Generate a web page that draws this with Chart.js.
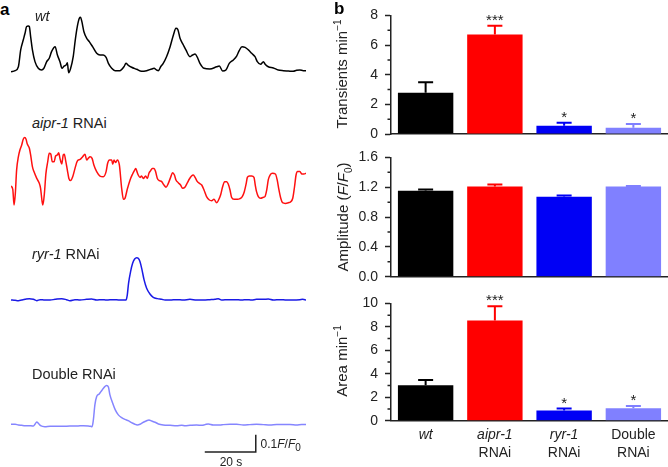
<!DOCTYPE html>
<html lang="en">
<head>
<meta charset="UTF-8">
<title>Calcium transients</title>
<script src="https://cdn.jsdelivr.net/npm/chart.js"></script>
<style>
  body { margin:0; width:668px; height:467px; position:relative; overflow:hidden; background:#fff;
         font-family: Arial, "Liberation Sans", Helvetica, sans-serif; color:#222; }
  canvas, .txt { position:absolute; }
  .txt { white-space:nowrap; }
  .lbl { font-size:14.5px; line-height:14.5px; left:32px; }
  .panel { font-size:17px; line-height:17px; font-weight:bold; color:#000; }
  .ytitle { font-size:15px; line-height:15px; transform:translate(-50%,-50%) rotate(-90deg); }
  sup, sub { font-size:10px; line-height:0; }
  .sb { font-size:12px; line-height:12px; }
</style>
</head>
<body>
  <canvas id="trWt" width="295" height="85" style="left:11px;top:3px"></canvas>
  <canvas id="trAipr" width="295" height="85" style="left:11px;top:132px"></canvas>
  <canvas id="trRyr" width="295" height="85" style="left:11px;top:232px"></canvas>
  <canvas id="trDouble" width="295" height="111" style="left:11px;top:357px"></canvas>

  <canvas id="barTransients" width="338" height="151" style="left:330px;top:0"></canvas>
  <canvas id="barAmplitude" width="338" height="152" style="left:330px;top:142px"></canvas>
  <canvas id="barArea" width="338" height="179" style="left:330px;top:288px"></canvas>

  <div class="txt panel" style="left:0;top:0.6px">a</div>
  <div class="txt panel" style="left:334px;top:-0.4px">b</div>

  <div class="txt lbl" style="left:35px;top:9.4px"><i>wt</i></div>
  <div class="txt lbl" style="top:116px"><i>aipr-1</i> RNAi</div>
  <div class="txt lbl" style="top:247px"><i>ryr-1</i> RNAi</div>
  <div class="txt lbl" style="top:367px">Double RNAi</div>

  <div class="txt sb" style="left:260.5px;top:437.5px">0.1<i>F</i>/<i>F</i><sub>0</sub></div>
  <div class="txt sb" style="left:211px;top:455.8px;width:40px;text-align:center">20 s</div>

  <div class="txt ytitle" style="left:341px;top:74px">Transients min<sup>−1</sup></div>
  <div class="txt ytitle" style="left:341.5px;top:217px">Amplitude (<i>F</i>/<i>F</i><sub>0</sub>)</div>
  <div class="txt ytitle" style="left:341px;top:361px">Area min<sup>−1</sup></div>

<script>
// ---- panel a: example traces, [time (s), F/F0] ----
const wtTrace = [[0,0.996],[1.6,1.002],[2.9,1.025],[3.8,1.124],[4.8,1.182],[5.5,1.222],[6.1,1.261],[6.8,1.265],[7.2,1.261],[7.7,1.202],[8.4,1.124],[9.4,1.055],[10.7,1.016],[12.0,1.006],[12.9,1.016],[14.0,1.055],[15.0,1.075],[15.9,1.114],[17.3,1.143],[18.2,1.094],[19.2,1.055],[20.0,1.016],[20.8,1.029],[21.6,1.035],[22.1,1.049],[22.6,0.990],[23.4,1.016],[24.4,1.084],[25.2,1.182],[26.0,1.261],[26.8,1.310],[27.3,1.316],[27.8,1.290],[28.6,1.231],[29.7,1.192],[30.7,1.173],[32.0,1.143],[33.6,1.104],[34.9,1.094],[36.2,1.094],[37.3,1.080],[38.2,1.045],[39.5,1.016],[40.8,1.002],[42.7,1.002],[44.3,1.025],[45.1,1.045],[45.9,1.035],[47.3,1.022],[49.3,1.010],[51.2,0.998],[53.2,1.002],[55.2,1.012],[56.1,1.016],[57.1,1.006],[57.8,1.002],[58.7,1.025],[59.7,1.045],[61.0,1.084],[62.4,1.143],[63.7,1.212],[64.7,1.251],[65.4,1.245],[66.3,1.192],[67.6,1.153],[68.6,1.124],[70.2,1.084],[71.2,1.094],[72.2,1.100],[73.1,1.080],[74.1,1.045],[75.7,1.016],[78.0,1.012],[80.7,1.025],[81.7,1.029],[83.0,1.000],[84.3,1.006],[85.6,1.045],[87.2,1.065],[88.5,1.088],[89.5,1.120],[90.6,1.143],[91.8,1.139],[93.1,1.124],[94.4,1.104],[95.7,1.084],[96.6,1.055],[97.9,1.039],[99.0,1.055],[99.6,1.041],[100.9,1.025],[102.9,1.018],[104.8,1.006],[106.8,1.002],[108.8,1.000],[110.7,0.998],[112.0,1.004],[113.3,1.006],[114.6,1.002],[115.7,1.002]];

const aiprTrace = [[0,1.082],[0.7,1.063],[1.2,0.971],[1.7,1.039],[2.2,1.176],[2.9,1.255],[3.5,1.294],[4.2,1.324],[4.8,1.357],[5.4,1.367],[5.9,1.357],[6.4,1.329],[7.2,1.304],[7.7,1.265],[8.4,1.196],[9.0,1.167],[10.1,1.127],[11.1,1.098],[11.6,1.069],[12.2,0.990],[12.5,0.971],[13.1,1.039],[13.7,1.157],[14.4,1.225],[15.0,1.275],[15.6,1.271],[16.2,1.225],[16.9,1.225],[17.5,1.259],[18.2,1.265],[18.7,1.278],[19.2,1.245],[19.9,1.212],[20.5,1.265],[20.9,1.269],[21.4,1.235],[22.1,1.176],[22.7,1.127],[23.4,1.114],[24.2,1.137],[25.1,1.186],[26.0,1.229],[27.1,1.239],[28.1,1.255],[29.0,1.269],[29.7,1.235],[30.3,1.245],[31.0,1.255],[31.8,1.245],[32.5,1.206],[33.6,1.167],[34.9,1.141],[36.2,1.137],[37.3,1.167],[37.9,1.216],[38.6,1.235],[39.5,1.235],[39.9,1.210],[40.4,1.235],[41.0,1.220],[41.7,1.235],[42.5,1.206],[43.4,1.069],[44.1,1.004],[44.7,1.010],[45.6,1.063],[46.7,1.118],[47.7,1.153],[48.4,1.173],[48.9,1.186],[49.4,1.167],[49.9,1.147],[50.6,1.133],[51.2,1.141],[51.9,1.127],[52.8,1.141],[53.5,1.127],[54.1,1.157],[54.8,1.173],[55.4,1.186],[56.1,1.186],[56.7,1.167],[57.4,1.127],[58.2,1.114],[59.1,1.108],[60.0,1.088],[60.8,1.075],[61.7,1.098],[62.6,1.133],[63.4,1.161],[64.1,1.147],[64.7,1.118],[65.6,1.102],[66.5,1.088],[67.3,1.069],[68.2,1.075],[69.2,1.102],[69.9,1.122],[70.8,1.141],[71.5,1.147],[72.2,1.133],[73.1,1.108],[73.9,1.098],[74.8,1.088],[75.7,1.059],[76.7,1.020],[77.8,1.000],[78.7,0.996],[79.6,1.004],[80.7,0.984],[81.4,1.000],[82.2,1.029],[83.0,1.078],[83.8,1.108],[84.6,1.108],[85.2,1.094],[85.9,1.059],[86.5,1.016],[87.5,1.004],[88.8,1.004],[89.8,1.008],[90.7,1.020],[91.5,1.049],[92.2,1.094],[92.7,1.133],[93.5,1.141],[94.4,1.141],[95.3,1.133],[95.8,1.088],[96.3,1.049],[97.0,1.020],[97.9,1.010],[99.0,1.016],[99.6,1.020],[100.3,1.059],[100.9,1.118],[101.6,1.147],[102.6,1.157],[103.7,1.153],[104.4,1.118],[105.1,1.059],[105.8,1.010],[106.5,0.984],[107.6,0.980],[108.8,0.984],[109.7,0.990],[110.5,1.010],[111.2,1.078],[111.8,1.147],[112.4,1.167],[113.3,1.167],[114.1,1.153],[114.9,1.153],[115.7,1.157]];

const ryrTrace = [[0,1.000],[1.6,0.998],[2.9,0.996],[4.2,1.000],[5.5,1.004],[7.2,1.008],[8.8,1.004],[10.1,0.996],[11.4,1.002],[13.3,1.000],[15.3,1.000],[17.3,1.004],[19.9,1.008],[21.8,1.002],[23.1,0.996],[25.1,1.002],[27.1,1.000],[29.7,1.004],[31.6,1.006],[33.6,1.000],[35.6,1.002],[37.5,1.000],[40.1,1.002],[42.7,1.000],[44.3,1.000],[45.1,1.000],[45.6,1.029],[46.1,1.098],[46.9,1.167],[47.7,1.216],[48.5,1.241],[49.3,1.249],[49.9,1.245],[50.6,1.225],[51.4,1.176],[52.2,1.118],[53.2,1.069],[54.5,1.035],[55.8,1.016],[57.4,1.008],[59.1,1.004],[60.4,1.000],[62.4,1.000],[65.0,1.002],[67.6,1.000],[70.2,1.004],[72.8,1.000],[75.4,1.000],[78.0,1.002],[80.0,1.004],[81.3,1.008],[82.6,1.000],[85.2,1.002],[87.8,1.002],[90.5,1.000],[92.4,1.002],[94.4,1.000],[96.3,1.004],[99.0,1.004],[100.9,1.006],[102.9,1.000],[105.5,1.002],[108.1,1.000],[110.7,1.000],[113.3,1.002],[114.4,1.004],[115.7,1.000]];

const doubleTrace = [[0,1.006],[1.6,1.006],[2.9,1.002],[4.2,1.000],[5.5,0.998],[6.8,0.998],[8.8,0.996],[9.4,1.006],[10.1,1.020],[10.7,1.012],[11.6,0.998],[13.3,0.992],[15.3,0.994],[17.9,0.994],[20.5,0.994],[23.1,0.996],[25.8,0.996],[28.4,0.998],[30.3,0.996],[31.2,0.994],[31.8,0.992],[32.3,1.031],[32.9,1.120],[33.6,1.169],[34.6,1.184],[35.6,1.204],[36.5,1.222],[37.5,1.233],[38.2,1.224],[38.8,1.178],[39.9,1.129],[40.9,1.090],[42.1,1.061],[43.4,1.045],[44.7,1.035],[46.0,1.027],[47.3,1.016],[48.6,1.006],[49.5,1.002],[50.6,1.006],[51.9,1.018],[53.2,1.027],[54.1,1.031],[55.2,1.025],[56.5,1.018],[57.8,1.008],[59.7,1.002],[62.4,1.000],[65.0,0.998],[67.0,1.000],[68.2,0.998],[70.2,1.000],[72.8,1.002],[74.8,1.000],[76.1,1.004],[77.4,1.008],[79.3,1.002],[82.0,1.002],[83.3,1.004],[85.9,1.006],[88.5,1.006],[91.1,1.002],[93.7,1.004],[96.3,1.006],[99.0,1.004],[101.6,1.002],[104.2,1.004],[106.8,1.004],[109.4,1.004],[112.0,1.002],[114.0,1.004],[115.7,1.004]];

const traceEnd = 115.7;          // s
const scaleBarStart = 76;        // s
const scaleBarSeconds = 20;
const scaleBarRatio = 0.1;       // F/F0
const scaleBarBase = 0.844;

// ---- panel b: group means and SEM ----
const groups = ['wt', 'aipr-1 RNAi', 'ryr-1 RNAi', 'Double RNAi'];
const groupGene = ['wt', 'aipr-1', 'ryr-1', 'Double'];
const groupSuffix = ['', 'RNAi', 'RNAi', 'RNAi'];
const transientsMean = [2.78, 6.71, 0.56, 0.42];
const transientsSem = [0.71, 0.60, 0.20, 0.25];
const transientsSig = ['', '***', '*', '*'];
const amplitudeMean = [1.153, 1.211, 1.073, 1.211];
const amplitudeSem = [0.018, 0.027, 0.017, 0.004];
const areaMean = [3.02, 8.55, 0.87, 1.06];
const areaSem = [0.44, 1.20, 0.16, 0.20];
const areaSig = ['', '***', '*', '*'];

const FONT = 'Arial, "Liberation Sans", Helvetica, sans-serif';
const INK = '#222';
const barColors = ['#000000', '#ff0000', '#0000f5', '#8080ff'];
const geneItalic = [true, true, true, false];

Chart.defaults.font.family = FONT;
Chart.defaults.font.size = 14;
Chart.defaults.color = INK;

function makeTrace(id, points, color, yMin, yMax, extra) {
  new Chart(document.getElementById(id), {
    type: 'line',
    data: {
      datasets: [{
        data: points.map(p => ({ x: p[0], y: p[1] })),
        borderColor: color,
        borderWidth: 1.5,
        pointRadius: 0,
        cubicInterpolationMode: 'monotone',
        fill: false,
        clip: false
      }]
    },
    options: {
      responsive: false,
      animation: false,
      layout: { padding: 0 },
      plugins: { legend: { display: false }, tooltip: { enabled: false } },
      scales: {
        x: { type: 'linear', min: 0, max: traceEnd, display: false },
        y: { min: yMin, max: yMax, display: false }
      }
    },
    plugins: extra ? [extra] : []
  });
}

const scaleBar = {
  id: 'scaleBar',
  afterDraw(chart) {
    const { ctx, scales: { x, y } } = chart;
    const x0 = x.getPixelForValue(scaleBarStart);
    const x1 = x.getPixelForValue(scaleBarStart + scaleBarSeconds);
    const y0 = y.getPixelForValue(scaleBarBase);
    const y1 = y.getPixelForValue(scaleBarBase + scaleBarRatio);
    ctx.save();
    ctx.strokeStyle = INK;
    ctx.lineWidth = 1.5;
    ctx.beginPath();
    ctx.moveTo(x0, y0);
    ctx.lineTo(x1, y0);
    ctx.lineTo(x1, y1);
    ctx.stroke();
    ctx.restore();
  }
};

makeTrace('trWt', wtTrace, '#000000', 0.9, 1.4);
makeTrace('trAipr', aiprTrace, '#ff1010', 0.9, 1.4);
makeTrace('trRyr', ryrTrace, '#1a1ae6', 0.9, 1.4);
makeTrace('trDouble', doubleTrace, '#8585ff', 0.75, 1.4, scaleBar);

// error bars, significance stars, minor ticks, group labels
function barExtras(sems, sigs, minorStep, withLabels) {
  return {
    id: 'barExtras',
    afterDatasetsDraw(chart) {
      const ctx = chart.ctx, ys = chart.scales.y, xs = chart.scales.x;
      const means = chart.data.datasets[0].data;
      ctx.save();
      chart.getDatasetMeta(0).data.forEach((bar, i) => {
        const top = ys.getPixelForValue(means[i] + sems[i]);
        ctx.strokeStyle = barColors[i];
        ctx.lineWidth = 2;
        ctx.beginPath();
        ctx.moveTo(bar.x, bar.y);
        ctx.lineTo(bar.x, top);
        ctx.moveTo(bar.x - 7.5, top);
        ctx.lineTo(bar.x + 7.5, top);
        ctx.stroke();
        if (sigs && sigs[i]) {
          ctx.fillStyle = INK;
          ctx.font = '15px ' + FONT;
          ctx.textAlign = 'center';
          ctx.textBaseline = 'alphabetic';
          ctx.fillText(sigs[i], bar.x, top - 1);
        }
      });

      ctx.strokeStyle = INK;
      ctx.lineWidth = 1.5;
      const left = chart.chartArea.left;
      ctx.beginPath();
      for (let v = minorStep; v < ys.max; v += 2 * minorStep) {
        const py = ys.getPixelForValue(v);
        ctx.moveTo(left - 3.5, py);
        ctx.lineTo(left, py);
      }
      ctx.stroke();

      if (withLabels) {
        ctx.fillStyle = INK;
        ctx.textAlign = 'center';
        ctx.textBaseline = 'alphabetic';
        groupGene.forEach((g, i) => {
          const px = xs.getPixelForValue(i);
          ctx.font = (geneItalic[i] ? 'italic ' : '') + '14px ' + FONT;
          ctx.fillText(g, px, xs.top + 18.6);
          if (groupSuffix[i]) {
            ctx.font = '14px ' + FONT;
            ctx.fillText(groupSuffix[i], px, xs.top + 36);
          }
        });
      }
      ctx.restore();
    }
  };
}

function makeBar(id, means, sems, sigs, yMax, step, decimals, padTop, xHeight, withLabels) {
  new Chart(document.getElementById(id), {
    type: 'bar',
    data: {
      labels: groups,
      datasets: [{
        data: means,
        backgroundColor: barColors,
        borderWidth: 0,
        barPercentage: 0.8,
        categoryPercentage: 1.0
      }]
    },
    options: {
      responsive: false,
      animation: false,
      layout: { padding: { top: padTop, right: 0, left: 0, bottom: 0 } },
      plugins: { legend: { display: false }, tooltip: { enabled: false } },
      scales: {
        x: {
          ticks: { display: false },
          grid: { display: false },
          border: { display: true, color: INK, width: 1.5 },
          afterFit: s => { s.height = xHeight; }
        },
        y: {
          min: 0,
          max: yMax,
          ticks: {
            stepSize: step,
            autoSkip: false,
            padding: 7,
            font: { size: 14 },
            callback: v => v.toFixed(decimals)
          },
          grid: { drawOnChartArea: false, drawTicks: true, tickLength: 6, tickColor: INK, tickWidth: 1.5 },
          border: { display: true, color: INK, width: 1.5 },
          afterFit: s => { s.width = 61; }
        }
      }
    },
    plugins: [barExtras(sems, sigs, step / 2, withLabels)]
  });
}

makeBar('barTransients', transientsMean, transientsSem, transientsSig, 8, 2, 0, 14, 17, false);
makeBar('barAmplitude', amplitudeMean, amplitudeSem, null, 1.6, 0.4, 1, 15.3, 17.3, false);
makeBar('barArea', areaMean, areaSem, areaSig, 10, 2, 0, 13.3, 46.3, true);
</script>
</body>
</html>
